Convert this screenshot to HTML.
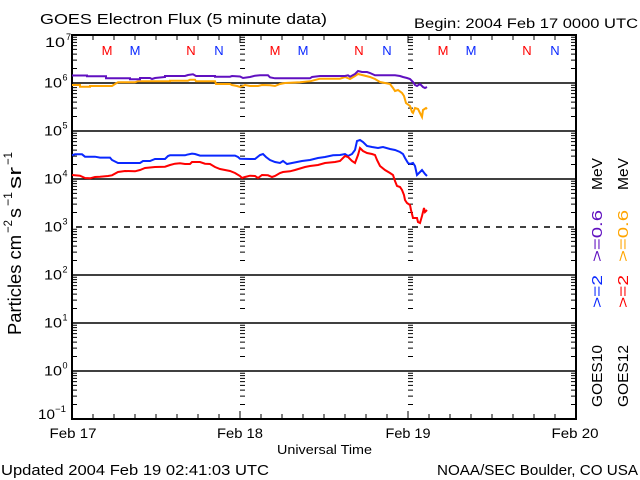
<!DOCTYPE html>
<html><head><meta charset="utf-8"><style>
html,body{margin:0;padding:0;background:#fff;}
svg{display:block;}
text{font-family:"Liberation Sans",sans-serif;fill:#000;}
</style></head><body>
<svg width="640" height="480" viewBox="0 0 640 480" xmlns="http://www.w3.org/2000/svg">
<defs>
<path id="dr" d="M0,-14.5h5M0,-22.9h5M0,-28.9h5M0,-33.6h5M0,-37.4h5M0,-40.6h5M0,-43.4h5M0,-45.8h5" stroke="#000" stroke-width="1" fill="none"/>
<path id="dl" d="M0,-14.5h-5M0,-22.9h-5M0,-28.9h-5M0,-33.6h-5M0,-37.4h-5M0,-40.6h-5M0,-43.4h-5M0,-45.8h-5" stroke="#000" stroke-width="1" fill="none"/>
<g id="col">
<use href="#dr" y="419"/><use href="#dr" y="371"/><use href="#dr" y="323"/><use href="#dr" y="275"/>
<use href="#dr" y="227"/><use href="#dr" y="179"/><use href="#dr" y="131"/><use href="#dr" y="83"/>
</g>
<g id="colL">
<use href="#dl" y="419"/><use href="#dl" y="371"/><use href="#dl" y="323"/><use href="#dl" y="275"/>
<use href="#dl" y="227"/><use href="#dl" y="179"/><use href="#dl" y="131"/><use href="#dl" y="83"/>
</g>
</defs>
<rect width="640" height="480" fill="#fff"/>

<!-- titles -->
<text x="40" y="24" font-size="15" textLength="287" lengthAdjust="spacingAndGlyphs">GOES Electron Flux (5 minute data)</text>
<text x="414" y="28" font-size="13.5" textLength="224" lengthAdjust="spacingAndGlyphs">Begin: 2004 Feb 17 0000 UTC</text>

<!-- grid lines -->
<g stroke="#000" stroke-width="1.6" fill="none">
<path d="M72,83H576M72,131H576M72,179H576M72,275H576M72,323H576M72,371H576"/>
<path d="M76,227H576" stroke-dasharray="6,6"/>
</g>

<!-- minor log ticks -->
<use href="#col" x="72"/>
<use href="#colL" x="576"/>
<use href="#col" x="240"/>
<use href="#col" x="408"/>

<!-- x ticks -->
<g stroke="#000" stroke-width="1" fill="none">
<path d="M93,419v-5M114,419v-5M135,419v-5M156,419v-5M177,419v-5M198,419v-5M219,419v-5M240,419v-8M261,419v-5M282,419v-5M303,419v-5M324,419v-5M345,419v-5M366,419v-5M387,419v-5M408,419v-8M429,419v-5M450,419v-5M471,419v-5M492,419v-5M513,419v-5M534,419v-5M555,419v-5"/>
<path d="M93,35v5M114,35v5M135,35v5M156,35v5M177,35v5M198,35v5M219,35v5M240,35v8M261,35v5M282,35v5M303,35v5M324,35v5M345,35v5M366,35v5M387,35v5M408,35v8M429,35v5M450,35v5M471,35v5M492,35v5M513,35v5M534,35v5M555,35v5"/>
</g>

<!-- axis box -->
<rect x="72" y="35" width="504" height="384" fill="none" stroke="#000" stroke-width="2"/>

<!-- M / N markers -->
<g font-size="13" text-anchor="middle">
<text x="107" y="55" style="fill:#ff0000">M</text>
<text x="135" y="55" style="fill:#0a28ff">M</text>
<text x="191" y="55" style="fill:#ff0000">N</text>
<text x="219" y="55" style="fill:#0a28ff">N</text>
<text x="275" y="55" style="fill:#ff0000">M</text>
<text x="303" y="55" style="fill:#0a28ff">M</text>
<text x="359" y="55" style="fill:#ff0000">N</text>
<text x="387" y="55" style="fill:#0a28ff">N</text>
<text x="443" y="55" style="fill:#ff0000">M</text>
<text x="471" y="55" style="fill:#0a28ff">M</text>
<text x="527" y="55" style="fill:#ff0000">N</text>
<text x="555" y="55" style="fill:#0a28ff">N</text>
</g>

<!-- y tick labels -->
<g font-size="14">
<text x="45" y="47" textLength="20" lengthAdjust="spacingAndGlyphs">10</text><text x="66" y="40" font-size="9">7</text>
<text x="44" y="87.5" textLength="18" lengthAdjust="spacingAndGlyphs">10</text><text x="62.5" y="80.5" font-size="9">6</text>
<text x="44" y="135.5" textLength="18" lengthAdjust="spacingAndGlyphs">10</text><text x="62.5" y="128.5" font-size="9">5</text>
<text x="44" y="183.5" textLength="18" lengthAdjust="spacingAndGlyphs">10</text><text x="62.5" y="176.5" font-size="9">4</text>
<text x="44" y="231.5" textLength="18" lengthAdjust="spacingAndGlyphs">10</text><text x="62.5" y="224.5" font-size="9">3</text>
<text x="44" y="279.5" textLength="18" lengthAdjust="spacingAndGlyphs">10</text><text x="62.5" y="272.5" font-size="9">2</text>
<text x="44" y="327.5" textLength="18" lengthAdjust="spacingAndGlyphs">10</text><text x="62.5" y="320.5" font-size="9">1</text>
<text x="44" y="375.5" textLength="18" lengthAdjust="spacingAndGlyphs">10</text><text x="62.5" y="368.5" font-size="9">0</text>
<text x="38" y="419" textLength="17" lengthAdjust="spacingAndGlyphs">10</text><text x="55" y="412" font-size="9" textLength="11" lengthAdjust="spacingAndGlyphs">−1</text>
</g>

<!-- y axis title -->
<g transform="translate(21,335) rotate(-90)">
<text x="0" y="0" font-size="18" textLength="100" lengthAdjust="spacingAndGlyphs">Particles cm</text>
<text x="102" y="-9" font-size="12" textLength="13" lengthAdjust="spacingAndGlyphs">−2</text>
<text x="117" y="0" font-size="18" textLength="10" lengthAdjust="spacingAndGlyphs">s</text>
<text x="129" y="-9" font-size="12" textLength="14" lengthAdjust="spacingAndGlyphs">−1</text>
<text x="146" y="0" font-size="18" textLength="22" lengthAdjust="spacingAndGlyphs">sr</text>
<text x="170" y="-9" font-size="12" textLength="13" lengthAdjust="spacingAndGlyphs">−1</text>
</g>

<!-- x labels -->
<g font-size="14" text-anchor="middle">
<text x="73" y="438" textLength="47" lengthAdjust="spacingAndGlyphs">Feb 17</text>
<text x="240" y="438" textLength="46" lengthAdjust="spacingAndGlyphs">Feb 18</text>
<text x="408" y="438" textLength="45" lengthAdjust="spacingAndGlyphs">Feb 19</text>
<text x="575" y="438" textLength="47" lengthAdjust="spacingAndGlyphs">Feb 20</text>
</g>
<text x="277" y="454" font-size="12.5" textLength="95" lengthAdjust="spacingAndGlyphs">Universal Time</text>
<text x="1" y="475" font-size="14.5" textLength="268" lengthAdjust="spacingAndGlyphs">Updated 2004 Feb 19 02:41:03 UTC</text>
<text x="437" y="475" font-size="14.5" textLength="201" lengthAdjust="spacingAndGlyphs">NOAA/SEC Boulder, CO USA</text>

<!-- legend -->
<g font-size="15">
<text transform="translate(602,407) rotate(-90)" textLength="62" lengthAdjust="spacingAndGlyphs">GOES10</text>
<text transform="translate(602,308) rotate(-90)" textLength="33" lengthAdjust="spacingAndGlyphs" style="fill:#0a28ff">&gt;=2</text>
<text transform="translate(602,262) rotate(-90)" textLength="52" lengthAdjust="spacingAndGlyphs" style="fill:#6010c0">&gt;=0.6</text>
<text transform="translate(602,190) rotate(-90)" textLength="32" lengthAdjust="spacingAndGlyphs">MeV</text>
<text transform="translate(628,407) rotate(-90)" textLength="62" lengthAdjust="spacingAndGlyphs">GOES12</text>
<text transform="translate(628,308) rotate(-90)" textLength="33" lengthAdjust="spacingAndGlyphs" style="fill:#ff0000">&gt;=2</text>
<text transform="translate(628,262) rotate(-90)" textLength="52" lengthAdjust="spacingAndGlyphs" style="fill:#ffa500">&gt;=0.6</text>
<text transform="translate(628,190) rotate(-90)" textLength="32" lengthAdjust="spacingAndGlyphs">MeV</text>
</g>

<!-- data -->
<g fill="none" stroke-width="2" stroke-linejoin="miter">
<polyline stroke="#ffa500" points="72,85 80,85 80,86.7 90,86.7 90,86 112,86 115,84 118,82.3 135,82.3 138,81.3 170,81.3 170,80.7 188,80.7 190,79.7 195,79.7 196,81.3 215,81.3 216,84 230,84 232,85 237,86 240,87 243,86 245,85 250,86 258,86 262,85 270,85.3 275,86 280,84 285,83 300,82.3 310,81.3 320,78.7 340,78.7 345,77 350,79 355,76 358,74 362,75 370,77 375,79 380,82 385,83 390,84 393,88 395,91 398,90 402,93 404,96 406,103 410,106 412,112 413,113 415,108 418,109 420,113 422,117 423,110 426,108 427,109"/>
<polyline stroke="#6010c0" points="72,75.5 87,75.5 87,76.3 106,76.3 106,78.3 130,78.3 130,79.3 140,79.3 140,78 150,78 152,79 155,78 165,77 165,76 185,76 188,75 193,74.3 196,76 215,76 215,76.7 230,76.7 232,76 240,76.5 243,78 250,77 255,75.7 260,75.3 268,75.3 270,77.3 275,78.3 310,78.3 312,77 320,76 345,76 348,75.3 350,76.7 355,74 358,71 362,72 367,72 370,73 375,75.3 395,75.3 400,76 403,77 407,78 410,79 413,82 415,85 417,86 420,84 423,87 425,88 427,87"/>
<polyline stroke="#0a28ff" points="72,155.3 75,154.3 82,154.3 85,156.7 95,156.7 100,157.6 110,157.6 112,160 118,163 140,163 143,161 150,161 155,159 165,159 168,156 170,155.3 185,155.3 187,154.7 192,153.6 195,154 200,155.6 235,155.6 238,157 240,158.7 250,159 255,159 260,155 263,154 266,157 270,160 275,162 280,163 283,161 287,164 292,163 297,162 302,161 310,160 318,158 325,157 333,155.3 340,155 345,154 348,156 352,154 355,150 357,141 360,140 363,142 367,146 372,147 378,148 383,147 390,149 395,150 400,152 403,154 405,158 408,163 410,164 413,163 415,166 417,175 420,172 422,170 425,174 427,176"/>
<polyline stroke="#ff0000" points="72,175 80,175.7 85,178 90,178.3 95,177 100,176.7 108,176 112,175.3 118,172 125,171 135,171.3 140,170 145,168 155,167 165,166.7 170,165 175,163.7 180,163.3 185,164 190,164 192,162 200,162 205,163.7 210,164 215,167 220,169 225,170 230,171 235,173 240,176 242,178 245,177 250,175.7 255,176 258,178 262,175 268,175.3 272,177 275,176 280,173 283,172 290,171.3 295,170 300,168.5 305,167 310,166 318,165 325,163 335,162 340,161 345,156 348,157 352,161 355,163 358,155 360,148 363,151 367,153 372,154 375,155 377,160 380,166 385,170 390,173 393,175 395,181 397,186 400,187 402,190 404,195 405,200 407,203 410,205 411,210 413,218 415,218 417,218 418,222 420,223 422,216 424,208 425,212 427,210"/>
</g>
</svg>
</body></html>
